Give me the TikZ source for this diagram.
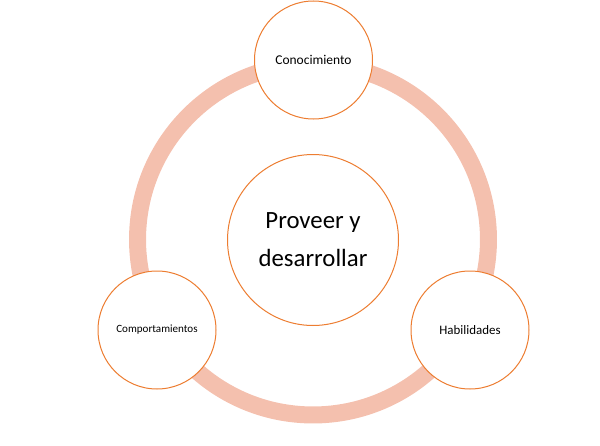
\documentclass[tikz,border=0pt]{standalone}
\usepackage{fontspec}
\setmainfont{Carlito}
\definecolor{ringPink}{RGB}{244,192,174}
\definecolor{edgeOrange}{RGB}{237,125,49}

\begin{document}
\begin{tikzpicture}[x=0.75pt, y=-0.75pt,
    bubble/.style={circle, draw=edgeOrange, fill=white, line width=0.75pt,
        inner sep=0pt, minimum size=88.5pt, font=\fontsize{10.1}{12}\selectfont},
    core/.style={bubble, minimum size=128.25pt, align=center,
        font=\fontsize{18.6}{28.5}\selectfont}]
    \useasboundingbox (0,0) rectangle (600,446);
    % Ring
    \coordinate (O) at (313,239.5);
    \draw[ringPink, line width=12.75pt] (O) circle [radius=131.6pt];
    % Centre
    \node[core] (centre) at (313,240) {Proveer y\\desarrollar};
    % Outer circles
    \node[bubble] (cono) at (313.5,60) {Conocimiento};
    \node[bubble, font=\fontsize{9.7}{12}\selectfont] (habi) at (470,330) {Habilidades};
    \node[bubble, font=\fontsize{8.3}{12}\selectfont] (comp) at (157,330) {Comportamientos};
\end{tikzpicture}
\end{document}
